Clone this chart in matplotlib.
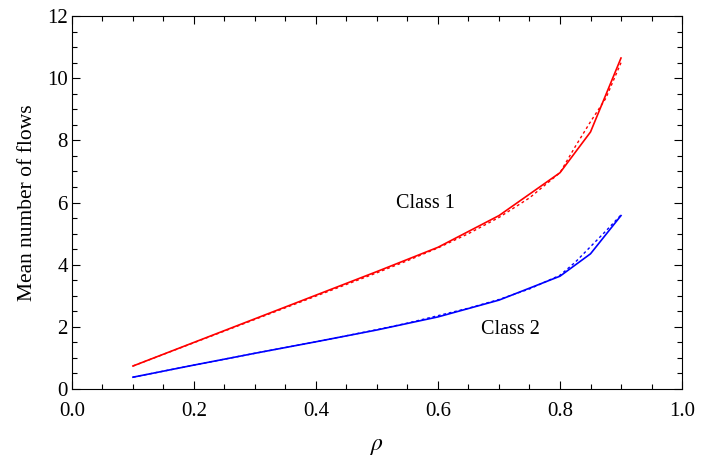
import matplotlib
matplotlib.use("Agg")
import matplotlib.pyplot as plt
from matplotlib.ticker import MultipleLocator

# simulation (solid)
rho_sim = [0.1, 0.2, 0.3, 0.4, 0.5, 0.6, 0.7, 0.8, 0.85, 0.9]
class1_sim = [0.74, 1.50, 2.26, 3.02, 3.78, 4.56, 5.58, 6.96, 8.27, 10.65]
class2_sim = [0.38, 0.77, 1.15, 1.52, 1.90, 2.32, 2.86, 3.63, 4.35, 5.58]

# analysis (dashed)
rho_ana = [0.1, 0.2, 0.3, 0.4, 0.5, 0.55, 0.6, 0.65, 0.7, 0.75, 0.8, 0.825, 0.85, 0.875, 0.9]
class1_ana = [0.74, 1.49, 2.24, 2.99, 3.74, 4.13, 4.54, 5.00, 5.52, 6.15, 6.96, 7.80, 8.60, 9.35, 10.50]
class2_ana = [0.38, 0.77, 1.15, 1.52, 1.91, 2.12, 2.36, 2.60, 2.88, 3.22, 3.66, 4.08, 4.58, 5.08, 5.60]

plt.rcParams["font.family"] = ["Liberation Serif", "DejaVu Serif"]
plt.rcParams["mathtext.fontset"] = "stix"

fig = plt.figure(figsize=(7.24, 4.59), dpi=100)
ax = fig.add_axes([0.0994, 0.1525, 0.8426, 0.8125])

ax.plot(rho_sim, class1_sim, color="red", lw=1.2)
ax.plot(rho_ana, class1_ana, color="red", lw=1.0, ls=(0, (2, 2)))
ax.plot(rho_sim, class2_sim, color="blue", lw=1.2)
ax.plot(rho_ana, class2_ana, color="blue", lw=1.0, ls=(0, (2, 2)))

ax.text(0.58, 5.98, "Class 1", fontsize=14.5, ha="center", va="center")
ax.text(0.718, 1.90, "Class 2", fontsize=14.5, ha="center", va="center")

ax.set_xlim(0, 1)
ax.set_ylim(0, 12)
ax.xaxis.set_major_locator(MultipleLocator(0.2))
ax.xaxis.set_minor_locator(MultipleLocator(0.05))
ax.yaxis.set_major_locator(MultipleLocator(2))
ax.yaxis.set_minor_locator(MultipleLocator(0.5))
ax.xaxis.set_major_formatter(plt.FormatStrFormatter("%.1f"))
ax.tick_params(which="both", direction="in", top=True, right=True, labelsize=15)
ax.tick_params(which="major", length=6, width=0.8)
ax.tick_params(which="minor", length=3.5, width=0.8)
ax.tick_params(axis="x", which="major", pad=9)
ax.tick_params(axis="y", which="major", pad=3)
for s in ax.spines.values():
    s.set_linewidth(0.8)

ax.set_xlabel(r"$\rho$", fontsize=17, labelpad=11)
ax.set_ylabel("Mean number of flows", fontsize=15.5, labelpad=7)

fig.savefig("out.png", dpi=100)
